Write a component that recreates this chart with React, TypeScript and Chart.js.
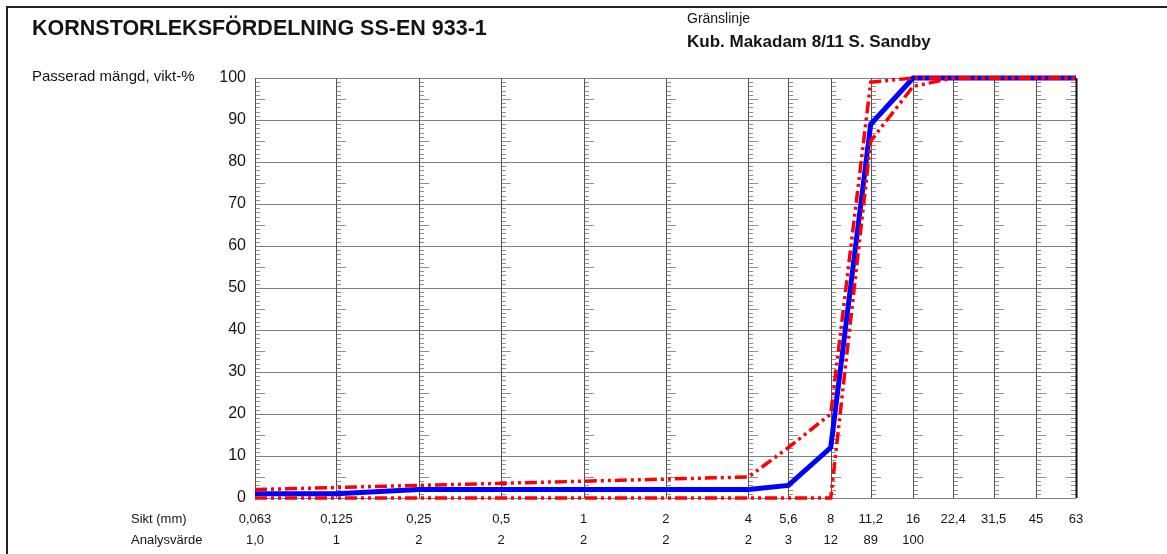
import React, { useEffect, useRef } from "react";
import { Chart, registerables } from "chart.js";

Chart.register(...registerables);

// Sieve sizes (mm) and their printed labels
const sieves = [0.063, 0.125, 0.25, 0.5, 1, 2, 4, 5.6, 8, 11.2, 16, 22.4, 31.5, 45, 63];
const sieveLabels = ["0,063", "0,125", "0,25", "0,5", "1", "2", "4", "5,6", "8", "11,2", "16", "22,4", "31,5", "45", "63"];

// Measured passing (%) per sieve
const analysisValues = [1.0, 1, 2, 2, 2, 2, 2, 3, 12, 89, 100, 100, 100, 100, 100];
const analysisLabels = ["1,0", "1", "2", "2", "2", "2", "2", "3", "12", "89", "100"];

// Limit curves (%)
const upperLimit = [2, 2.5, 3, 3.5, 4, 4.5, 5, 12, 20, 99, 100, 100, 100, 100, 100];
const lowerLimit = [0, 0, 0, 0, 0, 0, 0, 0, 0, 85, 98, 100, 100, 100, 100];

const yTicks = [0, 10, 20, 30, 40, 50, 60, 70, 80, 90, 100];

const FONT = '"Liberation Sans", Arial, sans-serif';
const TEXT = "#141414";

const toPoints = (vals: number[]) => vals.map((v, i) => ({ x: sieves[i], y: v }));

const gradingPlugin = {
  id: "gradingSheet",
  beforeDatasetsDraw(chart: any) {
    const { ctx, chartArea, scales } = chart;
    const { left, right, top, bottom } = chartArea;
    const xs = scales.x;
    const ys = scales.y;
    ctx.save();

    // minor tick marks along every sieve line
    ctx.lineWidth = 1;
    ctx.strokeStyle = "#8f8f8f";
    sieves.forEach((s, i) => {
      const x = Math.round(xs.getPixelForValue(s));
      const dir = i === sieves.length - 1 ? -1 : 1;
      for (let v = 1; v < 100; v++) {
        if (v % 10 === 0) continue;
        const len = v % 5 === 0 ? 10 : 5;
        const y = Math.round(ys.getPixelForValue(v)) + 0.5;
        ctx.beginPath();
        ctx.moveTo(x, y);
        ctx.lineTo(x + dir * len, y);
        ctx.stroke();
      }
    });

    // horizontal grid
    ctx.strokeStyle = "#808080";
    yTicks.forEach((t) => {
      const y = Math.round(ys.getPixelForValue(t)) + 0.5;
      ctx.beginPath();
      ctx.moveTo(left, y);
      ctx.lineTo(right, y);
      ctx.stroke();
    });

    // vertical sieve lines
    sieves.forEach((s, i) => {
      const last = i === sieves.length - 1;
      const x = Math.round(xs.getPixelForValue(s)) + 0.5;
      ctx.lineWidth = last ? 2 : 1;
      ctx.strokeStyle = last ? "#111111" : "#555555";
      ctx.beginPath();
      ctx.moveTo(x, top);
      ctx.lineTo(x, bottom);
      ctx.stroke();
    });
    ctx.restore();
  },
  afterDraw(chart: any) {
    const { ctx, scales } = chart;
    const xs = scales.x;
    const ys = scales.y;
    ctx.save();

    // page frame
    ctx.strokeStyle = "#222222";
    ctx.lineWidth = 2;
    ctx.beginPath();
    ctx.moveTo(7, chart.height);
    ctx.lineTo(7, 7);
    ctx.lineTo(chart.width, 7);
    ctx.stroke();

    ctx.fillStyle = TEXT;
    ctx.textBaseline = "alphabetic";
    ctx.textAlign = "left";
    ctx.font = `bold 21.5px ${FONT}`;
    ctx.fillText("KORNSTORLEKSFÖRDELNING SS-EN 933-1", 32, 35);
    ctx.font = `14px ${FONT}`;
    ctx.fillText("Gränslinje", 687, 23);
    ctx.font = `bold 17px ${FONT}`;
    ctx.fillText("Kub. Makadam 8/11 S. Sandby", 687, 47);

    ctx.textBaseline = "middle";
    ctx.font = `15px ${FONT}`;
    ctx.fillText("Passerad mängd, vikt-%", 32, 77);

    // y tick labels
    ctx.textAlign = "right";
    ctx.font = `16px ${FONT}`;
    yTicks.forEach((t) => {
      ctx.fillText(String(t), 246, ys.getPixelForValue(t));
    });

    // sieve row and analysis row
    ctx.textAlign = "left";
    ctx.font = `13px ${FONT}`;
    ctx.fillText("Sikt (mm)", 131, 519);
    ctx.fillText("Analysvärde", 131, 540);
    ctx.textAlign = "center";
    sieves.forEach((s, i) => {
      const x = xs.getPixelForValue(s);
      ctx.fillText(sieveLabels[i], x, 519);
      if (i < analysisLabels.length) ctx.fillText(analysisLabels[i], x, 540);
    });
    ctx.restore();
  },
};

const limitDash = [12, 4, 3, 4, 3, 4];

export default function App() {
  const canvasRef = useRef<HTMLCanvasElement | null>(null);

  useEffect(() => {
    const canvas = canvasRef.current;
    if (!canvas) return;
    const chart = new Chart(canvas, {
      type: "line",
      data: {
        datasets: [
          {
            label: "Övre gräns",
            data: toPoints(upperLimit),
            borderColor: "#ff0000",
            borderWidth: 3.5,
            borderDash: limitDash,
            pointRadius: 0,
            tension: 0,
            fill: false,
            clip: 6,
            order: 0,
          },
          {
            label: "Undre gräns",
            data: toPoints(lowerLimit),
            borderColor: "#ff0000",
            borderWidth: 3.5,
            borderDash: limitDash,
            pointRadius: 0,
            tension: 0,
            fill: false,
            clip: 6,
            order: 0,
          },
          {
            label: "Analysvärde",
            data: toPoints(analysisValues),
            borderColor: "#0000ff",
            borderWidth: 5,
            pointRadius: 0,
            tension: 0,
            fill: false,
            clip: 6,
            order: 1,
          },
        ],
      },
      options: {
        responsive: false,
        animation: false,
        layout: { padding: { left: 255, right: 91, top: 78, bottom: 56 } },
        plugins: { legend: { display: false }, tooltip: { enabled: false } },
        scales: {
          x: { type: "logarithmic", min: 0.063, max: 63, display: false },
          y: { type: "linear", min: 0, max: 100, display: false },
        },
      },
      plugins: [gradingPlugin],
    });
    return () => chart.destroy();
  }, []);

  return (
    <div style={{ position: "fixed", left: 0, top: 0, width: 1167, height: 554, background: "#ffffff" }}>
      <canvas ref={canvasRef} width={1167} height={554} />
    </div>
  );
}
